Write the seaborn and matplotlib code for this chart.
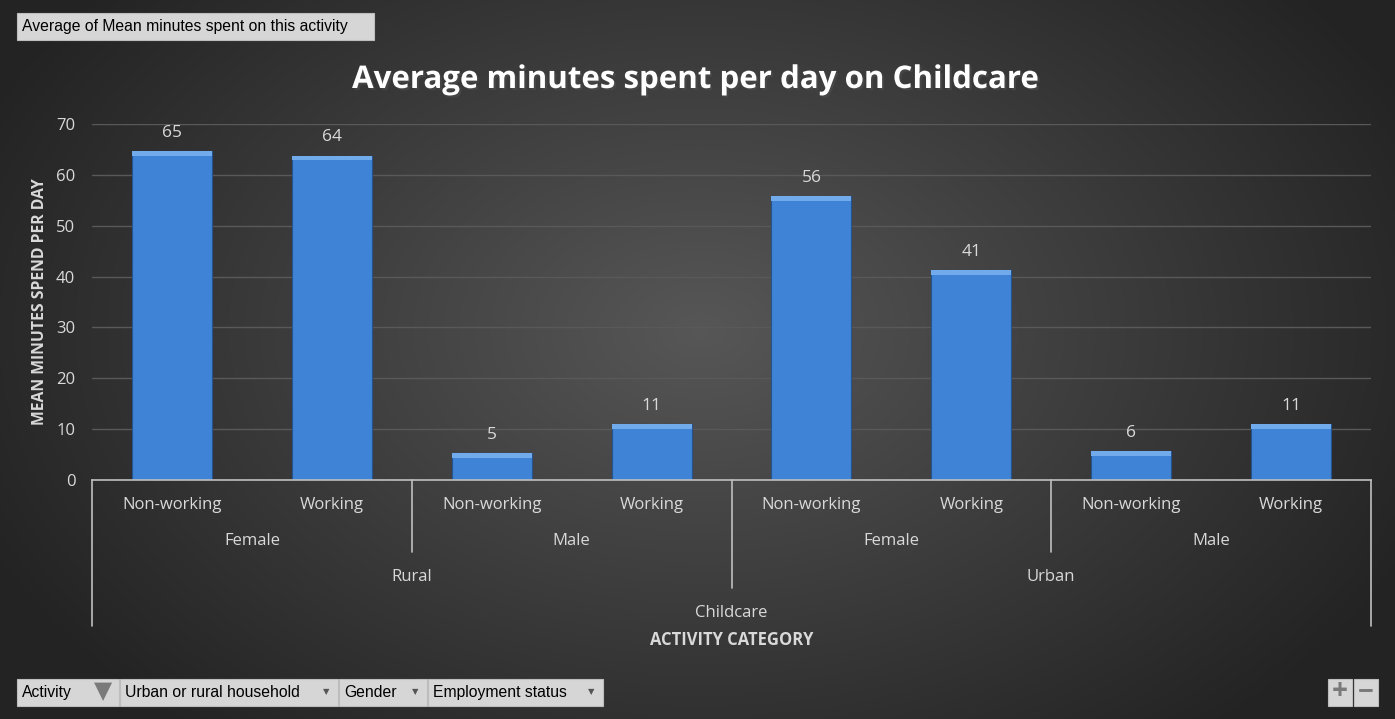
import numpy as np
import pandas as pd
import matplotlib
matplotlib.use("Agg")
import matplotlib.pyplot as plt
import matplotlib.patheffects as pe
from matplotlib.patches import Rectangle, FancyBboxPatch
import seaborn as sns

# data
areas = ["Rural", "Rural", "Rural", "Rural", "Urban", "Urban", "Urban", "Urban"]
genders = ["Female", "Female", "Male", "Male", "Female", "Female", "Male", "Male"]
status = ["Non-working", "Working"] * 4
minutes = [64.6, 63.8, 5.3, 11.0, 55.8, 41.3, 5.7, 11.0]
activity = "Childcare"

df = pd.DataFrame({"area": areas, "gender": genders, "status": status, "minutes": minutes})
df["slot"] = range(len(df))

sns.set_theme(style="dark")
plt.rcParams["font.family"] = ["Open Sans", "DejaVu Sans"]

W, H = 1395, 719
fig = plt.figure(figsize=(W / 100, H / 100), dpi=100)

# radial dark background
bg = fig.add_axes([0, 0, 1, 1], zorder=-10)
yy, xx = np.mgrid[0:H, 0:W]
r = np.sqrt(((xx - 700) / 900) ** 2 + ((yy - 330) / 600) ** 2)
shade = np.clip(0.34 - 0.23 * r, 0.14, 0.34)
bg.imshow(np.dstack([shade] * 3), aspect="auto", extent=[0, 1, 0, 1])
bg.axis("off")

x0, x1 = 92 / W, 1371 / W
y0, y1 = 1 - 480 / H, 1 - 124 / H
ax = fig.add_axes([x0, y0, x1 - x0, y1 - y0])
ax.patch.set_alpha(0)

sns.barplot(data=df, x="slot", y="minutes", color="#3f83d6", width=0.5,
            saturation=1, edgecolor="#24538f", linewidth=0.8, ax=ax)

# bevel highlight on top of each bar
for p in ax.patches[:len(minutes)]:
    ax.add_patch(Rectangle((p.get_x(), p.get_height() - 0.9), p.get_width(), 0.9,
                           color="#72abec", lw=0, zorder=3))
    ax.text(p.get_x() + p.get_width() / 2, p.get_height() + 2.0,
            f"{p.get_height():.0f}", ha="center", va="bottom",
            color="#d9d9d9", fontsize=12.5)

ax.set_ylim(0, 70)
ax.set_xlim(-0.5, len(minutes) - 0.5)
ax.set_yticks(range(0, 71, 10))
ax.yaxis.grid(True, color="#595959", lw=1)
ax.set_axisbelow(True)
for s in ["top", "right", "left"]:
    ax.spines[s].set_visible(False)
ax.spines["bottom"].set_color("#bfbfbf")
ax.spines["bottom"].set_linewidth(1.2)
ax.tick_params(axis="y", colors="#d9d9d9", labelsize=12, length=0, pad=12)
ax.set_xticks(range(len(minutes)))
ax.set_xticklabels(status, color="#d9d9d9", fontsize=12)
ax.tick_params(axis="x", length=0, pad=12)
ax.set_xlabel("")
ax.set_ylabel("MEAN MINUTES SPEND PER DAY", color="#d9d9d9", fontsize=11.3,
              fontweight="bold", labelpad=6)

# multi-level category labels
trans = ax.get_xaxis_transform()
line_kw = dict(color="#bfbfbf", lw=1.2, transform=trans, clip_on=False)


def yfrac(py):
    return (480 - py) / (480 - 124)


n = len(minutes)
for i in range(0, n, 2):
    ax.text(i + 0.5, yfrac(541), genders[i], ha="center", va="center",
            transform=trans, color="#d9d9d9", fontsize=12)
for i in range(0, n, 4):
    ax.text(i + 1.5, yfrac(577), areas[i], ha="center", va="center",
            transform=trans, color="#d9d9d9", fontsize=12)
ax.text((n - 1) / 2, yfrac(613), activity, ha="center", va="center",
        transform=trans, color="#d9d9d9", fontsize=12)
ax.text((n - 1) / 2, yfrac(640), "ACTIVITY CATEGORY", ha="center", va="center",
        transform=trans, color="#d9d9d9", fontsize=11.9, fontweight="bold")

ax.plot([-0.5, -0.5], [0, yfrac(626)], **line_kw)
ax.plot([n - 0.5, n - 0.5], [0, yfrac(626)], **line_kw)
ax.plot([n / 2 - 0.5] * 2, [0, yfrac(588)], **line_kw)
for i in [1.5, 5.5]:
    ax.plot([i, i], [0, yfrac(552)], **line_kw)

fig.text(0.499, 1 - 80 / H, "Average minutes spent per day on Childcare",
         ha="center", va="center", color="white", fontsize=22.5, fontweight="bold",
         path_effects=[pe.withSimplePatchShadow(offset=(1.5, -1.5), alpha=0.6)])


# pivot-style field buttons
def button(px0, py0, px1, py1, label, arrow=False):
    b = FancyBboxPatch((px0 / W, 1 - py1 / H), (px1 - px0) / W, (py1 - py0) / H,
                       boxstyle="square,pad=0", transform=fig.transFigure,
                       facecolor="#d6d6d6", edgecolor="#bdbdbd", lw=0.8)
    fig.add_artist(b)
    if label:
        fig.text((px0 + 5) / W, 1 - (py0 + py1) / 2 / H, label, ha="left",
                 va="center", color="black", fontsize=11.3,
                 family=["Liberation Sans", "DejaVu Sans"])
    if arrow:
        fig.text((px1 - 12) / W, 1 - (py0 + py1) / 2 / H, "▼", ha="center",
                 va="center", color="#555555", fontsize=6)


button(17, 13, 374, 40, "Average of Mean minutes spent on this activity")
button(17, 679, 119, 706, "Activity")
fig.text(103 / W, 1 - 692 / H, "▼", ha="center", va="center", color="#7a7a7a",
         fontsize=17)
button(120, 679, 338, 706, "Urban or rural household", arrow=True)
button(339, 679, 427, 706, "Gender", arrow=True)
button(428, 679, 603, 706, "Employment status", arrow=True)
button(1328, 679, 1352, 706, "")
button(1354, 679, 1378, 706, "")
fig.text(1340 / W, 1 - 692 / H, "+", ha="center", va="center", color="#7a7a7a",
         fontsize=20, fontweight="bold")
fig.text(1366 / W, 1 - 692 / H, "−", ha="center", va="center", color="#7a7a7a",
         fontsize=20, fontweight="bold")

fig.savefig("out.png", dpi=100)
